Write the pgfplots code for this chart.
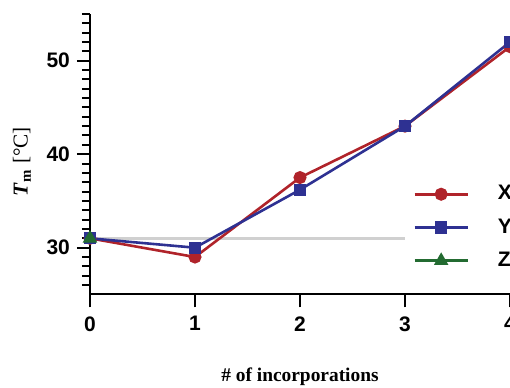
\documentclass[border=0pt]{standalone}
\usepackage{pgfplots}
\pgfplotsset{compat=1.18}
\usepackage{fontspec}
\setmainfont{Liberation Serif}
\setsansfont{Liberation Sans}
\definecolor{cX}{HTML}{B0232A}
\definecolor{cY}{HTML}{2E3192}
\definecolor{cZ}{HTML}{236B31}
\definecolor{cG}{HTML}{D0D0D0}
\begin{document}
\begin{tikzpicture}
\begin{axis}[
  x=52.5pt, y=4.675pt,
  xmin=0, xmax=4, ymin=25, ymax=55,
  axis lines*=left,
  axis line style={line width=1pt, black},
  clip=false,
  xtick={0,1,2,3,4},
  ytick={30,40,50},
  minor ytick={26,...,55},
  tick align=outside,
  major tick length=6.5pt,
  minor tick length=4pt,
  every tick/.style={black, line width=1pt},
  /pgf/number format/assume math mode=true,
  ticklabel style={font=\fontsize{10.5}{12}\selectfont\sffamily\bfseries},
  xticklabel style={yshift=-1pt},
  xlabel={\textbf{\# of incorporations}},
  xlabel style={font=\fontsize{9.7}{11}\selectfont, at={(rel axis cs:0.5,-0.294)}, anchor=center},
  ylabel={\textbf{\textit{T}}\textsubscript{\textbf{m}} [°C]},
  ylabel style={font=\fontsize{10.6}{12}\selectfont, at={(rel axis cs:-0.162,0.473)}, anchor=center},
  legend style={draw=none, fill=none, at={(rel axis cs:0.769,0.404)}, anchor=north west,
    font=\fontsize{10.5}{12}\selectfont\sffamily\bfseries, inner xsep=0pt, inner ysep=0pt,
    row sep=3.9pt, column sep=0pt},
  legend cell align=left,
  legend image code/.code={\draw[mark repeat=2,mark phase=2,#1] plot coordinates {(0pt,0pt) (13.25pt,0pt) (26.5pt,0pt)};},
  legend style={/tikz/every even column/.append style={column sep=0pt}, /tikz/every odd column/.append style={column sep=12.5pt}},
]
\addplot[cG, line width=1.2pt, forget plot] coordinates {(0,31) (3,31)};
\addplot[cX, line width=1.3pt, mark=*, mark size=2.6pt] coordinates {(0,31) (1,29) (2,37.5) (3,43) (4,51.5)};
\addplot[cY, line width=1.3pt, mark=square*, mark size=2.4pt] coordinates {(0,31) (1,30) (2,36.2) (3,43) (4,52)};
\addplot[cZ, line width=1.3pt, mark=triangle*, mark size=2.9pt] coordinates {(0,31)};
\legend{X,Y,Z}
\coordinate (bl) at (axis cs:-0.857,15.0);
\coordinate (tr) at (axis cs:4,56.49);
\end{axis}
\pgfresetboundingbox
\path[use as bounding box] (bl) rectangle (tr);
\end{tikzpicture}
\end{document}
